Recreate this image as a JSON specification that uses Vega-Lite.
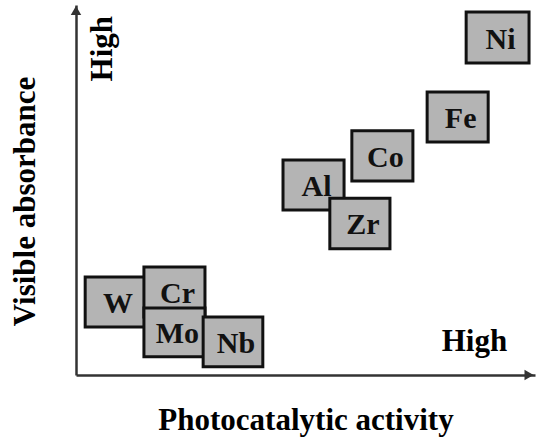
{
  "$schema": "https://vega.github.io/schema/vega-lite/v6.json",
  "width": 459,
  "height": 370,
  "autosize": {"type": "none"},
  "padding": {"left": 76, "top": 5, "right": 2, "bottom": 63},
  "background": "white",
  "config": {
    "view": {"stroke": null},
    "font": "Liberation Serif",
    "axis": {
      "labels": false,
      "ticks": false,
      "grid": false,
      "domainColor": "#333",
      "domainWidth": 2.5,
      "titleFont": "Liberation Serif",
      "titleFontSize": 31,
      "titleFontWeight": "bold",
      "titleColor": "#000"
    },
    "axisX": {"titlePadding": 30},
    "axisY": {"titlePadding": 35, "titleY": 196}
  },
  "datasets": {
    "boxes": [
      {"name": "W", "x1": 0.20, "x2": 1.50, "y1": 1.30, "y2": 2.65, "cx": 0.85, "cy": 1.97, "z": 1},
      {"name": "Al", "x1": 4.51, "x2": 5.84, "y1": 4.46, "y2": 5.81, "cx": 5.175, "cy": 5.135, "z": 1},
      {"name": "Co", "x1": 6.01, "x2": 7.34, "y1": 5.24, "y2": 6.60, "cx": 6.675, "cy": 5.92, "z": 1},
      {"name": "Fe", "x1": 7.65, "x2": 8.98, "y1": 6.30, "y2": 7.65, "cx": 8.315, "cy": 6.975, "z": 1},
      {"name": "Ni", "x1": 8.50, "x2": 9.87, "y1": 8.43, "y2": 9.81, "cx": 9.185, "cy": 9.12, "z": 1},
      {"name": "Cr", "x1": 1.48, "x2": 2.81, "y1": 1.57, "y2": 2.92, "cx": 2.145, "cy": 2.245, "z": 2},
      {"name": "Zr", "x1": 5.53, "x2": 6.84, "y1": 3.41, "y2": 4.78, "cx": 6.185, "cy": 4.095, "z": 2},
      {"name": "Mo", "x1": 1.48, "x2": 2.81, "y1": 0.49, "y2": 1.81, "cx": 2.145, "cy": 1.15, "z": 3},
      {"name": "Nb", "x1": 2.77, "x2": 4.07, "y1": 0.22, "y2": 1.57, "cx": 3.42, "cy": 0.895, "z": 4}
    ],
    "arrows": [
      {"ax": 0, "ay": 9.85, "shape": "triangle-up"},
      {"ax": 9.87, "ay": 0, "shape": "triangle-right"}
    ],
    "notes": [
      {"nx": 8.68, "ny": 0.88, "t": "High", "angle": 0},
      {"nx": 0.59, "ny": 8.82, "t": "High", "angle": -90}
    ]
  },
  "layer": [
    {
      "data": {"name": "arrows"},
      "mark": {"type": "point", "filled": true, "color": "#333", "opacity": 1, "size": 110},
      "encoding": {
        "x": {"field": "ax", "type": "quantitative", "scale": {"domain": [0, 10]}, "title": "Photocatalytic activity"},
        "y": {"field": "ay", "type": "quantitative", "scale": {"domain": [0, 10]}, "title": "Visible absorbance"},
        "shape": {"field": "shape", "type": "nominal", "scale": null}
      }
    },
    {
      "data": {"name": "notes"},
      "mark": {"type": "text", "font": "Liberation Serif", "fontSize": 31, "fontWeight": "bold", "baseline": "middle", "align": "center", "color": "#000"},
      "encoding": {
        "x": {"field": "nx", "type": "quantitative", "scale": {"domain": [0, 10]}, "title": "Photocatalytic activity"},
        "y": {"field": "ny", "type": "quantitative", "scale": {"domain": [0, 10]}, "title": "Visible absorbance"},
        "text": {"field": "t"},
        "angle": {"field": "angle", "type": "quantitative", "scale": null}
      }
    },
    {
      "data": {"name": "boxes"},
      "transform": [{"filter": "datum.z == 1"}],
      "layer": [
        {
          "mark": {"type": "rect", "fill": "#b4b4b4", "stroke": "#111", "strokeWidth": 3},
          "encoding": {
            "x": {"field": "x1", "type": "quantitative", "scale": {"domain": [0, 10]}, "title": "Photocatalytic activity"},
            "x2": {"field": "x2"},
            "y": {"field": "y1", "type": "quantitative", "scale": {"domain": [0, 10]}, "title": "Visible absorbance"},
            "y2": {"field": "y2"}
          }
        },
        {
          "mark": {"type": "text", "font": "Liberation Serif", "fontSize": 30, "fontWeight": "bold", "baseline": "middle", "align": "center", "dx": 3, "dy": 2, "color": "#111"},
          "encoding": {
            "x": {"field": "cx", "type": "quantitative", "scale": {"domain": [0, 10]}, "title": "Photocatalytic activity"},
            "y": {"field": "cy", "type": "quantitative", "scale": {"domain": [0, 10]}, "title": "Visible absorbance"},
            "text": {"field": "name"}
          }
        }
      ]
    },
    {
      "data": {"name": "boxes"},
      "transform": [{"filter": "datum.z == 2"}],
      "layer": [
        {
          "mark": {"type": "rect", "fill": "#b4b4b4", "stroke": "#111", "strokeWidth": 3},
          "encoding": {
            "x": {"field": "x1", "type": "quantitative", "scale": {"domain": [0, 10]}, "title": "Photocatalytic activity"},
            "x2": {"field": "x2"},
            "y": {"field": "y1", "type": "quantitative", "scale": {"domain": [0, 10]}, "title": "Visible absorbance"},
            "y2": {"field": "y2"}
          }
        },
        {
          "mark": {"type": "text", "font": "Liberation Serif", "fontSize": 30, "fontWeight": "bold", "baseline": "middle", "align": "center", "dx": 3, "dy": 2, "color": "#111"},
          "encoding": {
            "x": {"field": "cx", "type": "quantitative", "scale": {"domain": [0, 10]}, "title": "Photocatalytic activity"},
            "y": {"field": "cy", "type": "quantitative", "scale": {"domain": [0, 10]}, "title": "Visible absorbance"},
            "text": {"field": "name"}
          }
        }
      ]
    },
    {
      "data": {"name": "boxes"},
      "transform": [{"filter": "datum.z == 3"}],
      "layer": [
        {
          "mark": {"type": "rect", "fill": "#b4b4b4", "stroke": "#111", "strokeWidth": 3},
          "encoding": {
            "x": {"field": "x1", "type": "quantitative", "scale": {"domain": [0, 10]}, "title": "Photocatalytic activity"},
            "x2": {"field": "x2"},
            "y": {"field": "y1", "type": "quantitative", "scale": {"domain": [0, 10]}, "title": "Visible absorbance"},
            "y2": {"field": "y2"}
          }
        },
        {
          "mark": {"type": "text", "font": "Liberation Serif", "fontSize": 30, "fontWeight": "bold", "baseline": "middle", "align": "center", "dx": 3, "dy": 2, "color": "#111"},
          "encoding": {
            "x": {"field": "cx", "type": "quantitative", "scale": {"domain": [0, 10]}, "title": "Photocatalytic activity"},
            "y": {"field": "cy", "type": "quantitative", "scale": {"domain": [0, 10]}, "title": "Visible absorbance"},
            "text": {"field": "name"}
          }
        }
      ]
    },
    {
      "data": {"name": "boxes"},
      "transform": [{"filter": "datum.z == 4"}],
      "layer": [
        {
          "mark": {"type": "rect", "fill": "#b4b4b4", "stroke": "#111", "strokeWidth": 3},
          "encoding": {
            "x": {"field": "x1", "type": "quantitative", "scale": {"domain": [0, 10]}, "title": "Photocatalytic activity"},
            "x2": {"field": "x2"},
            "y": {"field": "y1", "type": "quantitative", "scale": {"domain": [0, 10]}, "title": "Visible absorbance"},
            "y2": {"field": "y2"}
          }
        },
        {
          "mark": {"type": "text", "font": "Liberation Serif", "fontSize": 30, "fontWeight": "bold", "baseline": "middle", "align": "center", "dx": 3, "dy": 2, "color": "#111"},
          "encoding": {
            "x": {"field": "cx", "type": "quantitative", "scale": {"domain": [0, 10]}, "title": "Photocatalytic activity"},
            "y": {"field": "cy", "type": "quantitative", "scale": {"domain": [0, 10]}, "title": "Visible absorbance"},
            "text": {"field": "name"}
          }
        }
      ]
    }
  ]
}
